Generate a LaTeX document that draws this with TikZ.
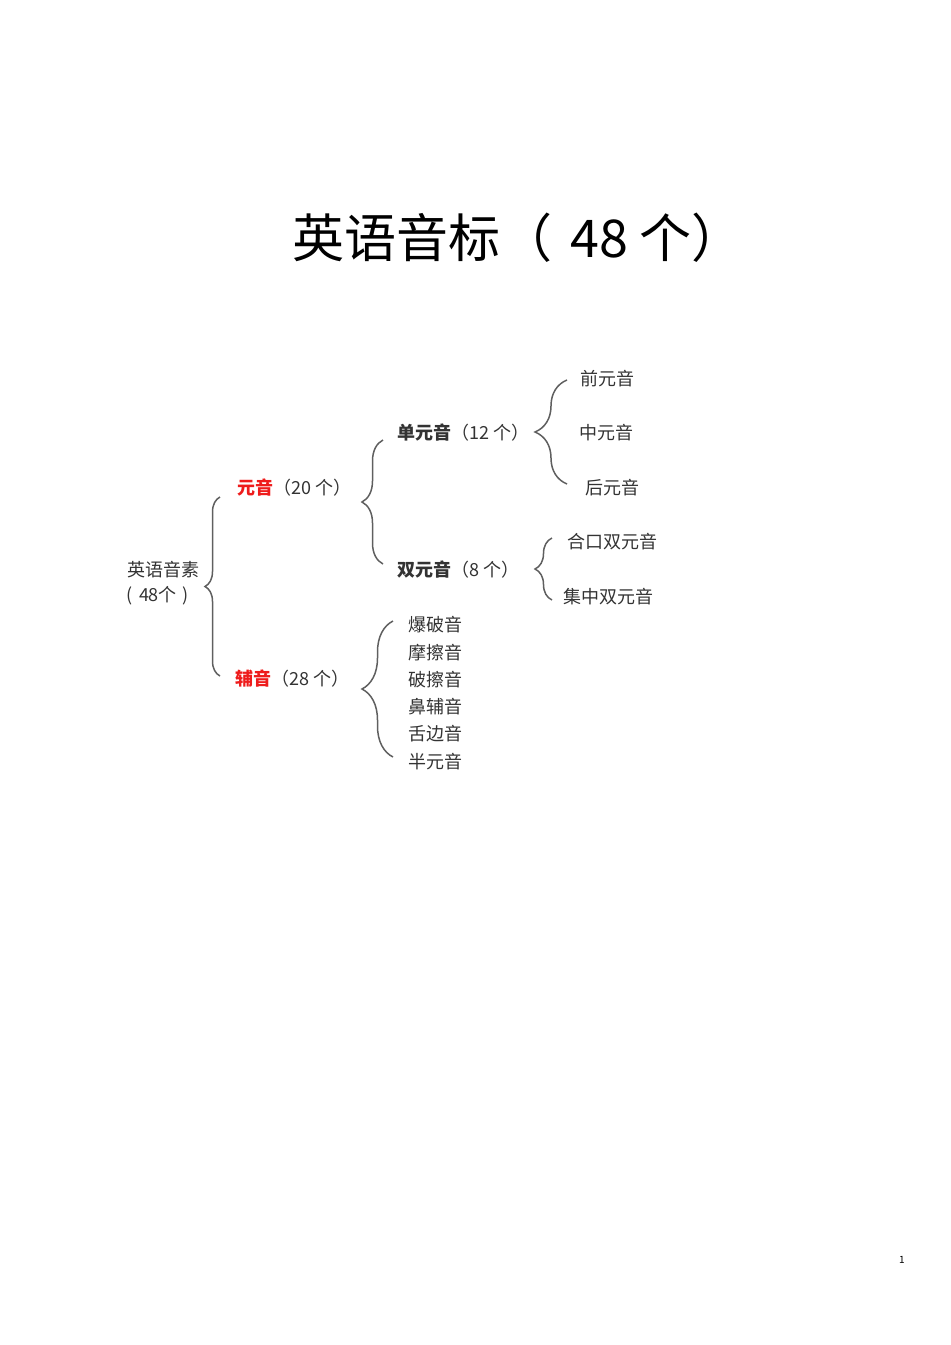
\documentclass[tikz,border=0pt]{standalone}
\usepackage{fontspec}
\setmainfont{Noto Sans CJK SC}
\usepackage{xcolor}
\usetikzlibrary{
	decorations.pathreplacing,
	positioning
}
\definecolor{bracegray}{HTML}{5F5F5F}
\definecolor{textgray}{HTML}{333333}
\definecolor{hired}{HTML}{EE1C1C}

\begin{document}
\begin{tikzpicture}
	[x=0.5pt, y=-0.5pt,
	 every node/.style={inner sep=0pt, text=textgray, font=\fontsize{9}{11}\selectfont},
	 item/.style={anchor=west},
	 curly/.style={decorate, decoration={brace, amplitude=#1}, draw=bracegray, line width=0.75pt}]

	% page
	\useasboundingbox (0,0) rectangle (950,1345);

	% title
	\node[item, text=black, font=\fontsize{26}{30}\selectfont] (title) at (292,238) {英语音标（\hspace{9pt}48 个）};

	% tree nodes
	\begin{scope}
		\node (root) at (163,570) {英语音素};
		\node (rootNum) at (158,596) {(\hspace{3pt}48个\hspace{3pt})};

		\node[item] (vowel) at (237,488) {\textcolor{hired}{\textbf{元音}}（20 个）};
		\node[item] (consonant) at (235,679) {\textcolor{hired}{\textbf{辅音}}（28 个）};

		\node[item] (mono) at (397,433) {\textbf{单元音}（12 个）};
		\node[item] (diph) at (397,570) {\textbf{双元音}（8 个）};

		\node[item] (front) at (580,379) {前元音};
		\node[item] (central) at (579,433) {中元音};
		\node[item] (back) at (585,488) {后元音};

		\node[item] (closing) at (567,542) {合口双元音};
		\node[item] (centring) at (563,597) {集中双元音};

		\foreach \i/\y/\name in {1/625/爆破音, 2/653/摩擦音, 3/680/破擦音, 4/707/鼻辅音, 5/734/舌边音, 6/762/半元音} {
			\node[item] (c\i) at (408,\y) {\name};
		}
	\end{scope}

	% brace ends
	\begin{scope}
		\coordinate (rootTop) at (220,497);
		\coordinate (rootBot) at (220,676);
		\coordinate (vowelTop) at (383,440);
		\coordinate (vowelBot) at (383,564);
		\coordinate (monoTop) at (567,380);
		\coordinate (monoBot) at (567,484);
		\coordinate (diphTop) at (552,538);
		\coordinate (diphBot) at (552,600);
		\coordinate (consTop) at (393,621);
		\coordinate (consBot) at (393,757);
	\end{scope}

	% braces
	\begin{scope}
		\draw[curly=7.5pt] (rootBot) -- (rootTop);
		\draw[curly=10.5pt] (vowelBot) -- (vowelTop);
		\draw[curly=16pt] (monoBot) -- (monoTop);
		\draw[curly=8.5pt] (diphBot) -- (diphTop);
		\draw[curly=15.5pt] (consBot) -- (consTop);
	\end{scope}

	% page number
	\node[text=black, font=\fontsize{5}{6}\selectfont] (pageNo) at (902,1260) {1};

\end{tikzpicture}
\end{document}
